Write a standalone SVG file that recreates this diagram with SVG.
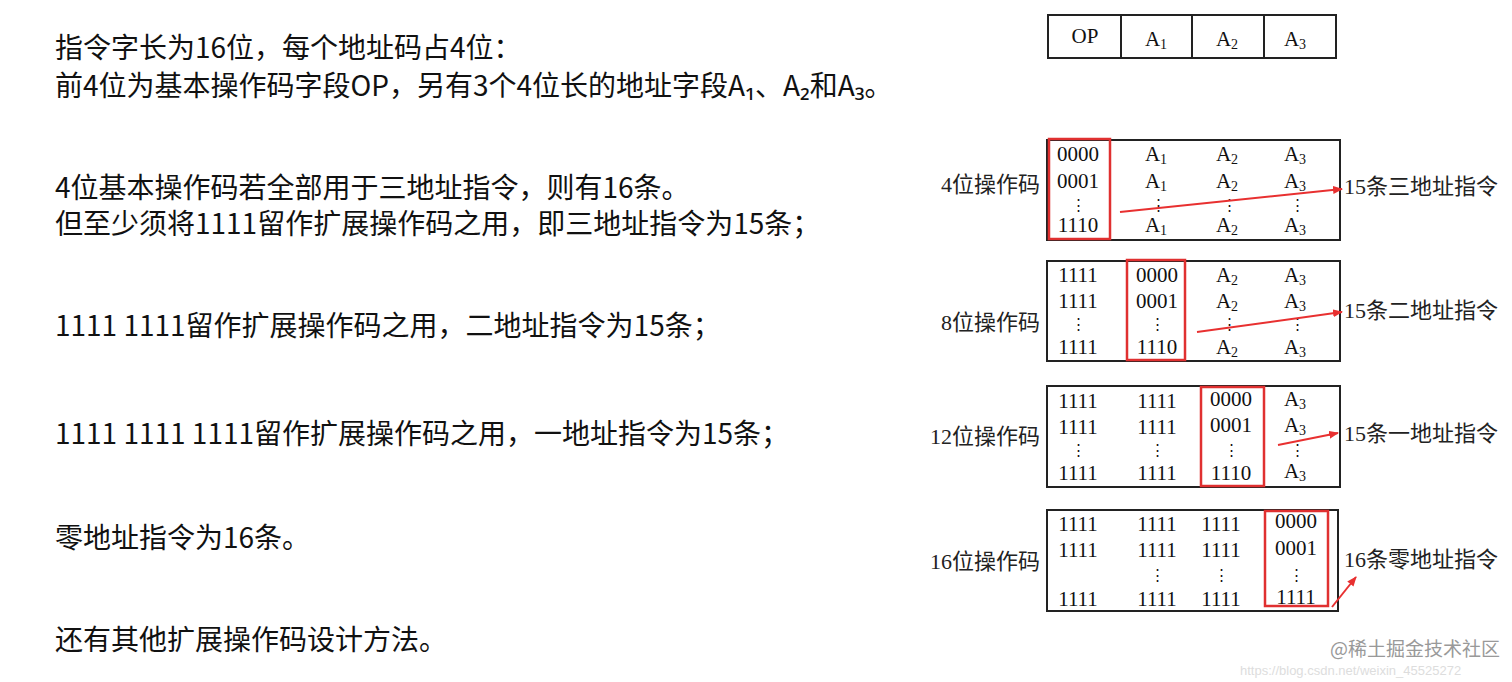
<svg xmlns="http://www.w3.org/2000/svg" width="1512" height="682" viewBox="0 0 1512 682">
<style>
.t{font-family:"Noto Sans CJK SC","Noto Sans",sans-serif;font-size:28px;fill:#111}
.s{font-family:"Liberation Serif","Noto Sans CJK SC",serif;font-size:21px;fill:#111;text-anchor:middle}
.d{font-family:"Liberation Serif","DejaVu Serif",serif;font-size:15px;fill:#111;text-anchor:middle}
.l{font-family:"Liberation Serif","Noto Sans CJK SC",serif;font-size:22px;fill:#222}
.r{text-anchor:end}
.b{fill:none;stroke:#222;stroke-width:2}
.red{fill:none;stroke:#e03030;stroke-width:2.5}
.a{stroke:#e83030;stroke-width:2;fill:none;marker-end:url(#ah)}
</style>
<defs><marker id="ah" markerWidth="10" markerHeight="8" refX="9" refY="4" orient="auto" markerUnits="userSpaceOnUse"><path d="M0,0L10,4L0,8z" fill="#e83030"/></marker></defs>
<rect width="1512" height="682" fill="#fff"/>
<g id="text">
<text class="t" x="55" y="58">指令字长为16位，每个地址码占4位：</text>
<text class="t" x="55" y="96">前4位为基本操作码字段OP，另有3个4位长的地址字段A₁、A₂和A₃。</text>
<text class="t" x="55" y="198">4位基本操作码若全部用于三地址指令，则有16条。</text>
<text class="t" x="55" y="234">但至少须将1111留作扩展操作码之用，即三地址指令为15条；</text>
<text class="t" x="55" y="336">1111 1111留作扩展操作码之用，二地址指令为15条；</text>
<text class="t" x="55" y="444">1111 1111 1111留作扩展操作码之用，一地址指令为15条；</text>
<text class="t" x="55" y="548">零地址指令为16条。</text>
<text class="t" x="55" y="650">还有其他扩展操作码设计方法。</text>
</g>
<g id="header">
<rect class="b" x="1048" y="15" width="288" height="43"/>
<path class="b" d="M1121 15V58M1192 15V58M1264 15V58"/>
<text class="s" x="1085" y="43">OP</text>
<text class="s" x="1156" y="46">A<tspan font-size="14" dy="3">1</tspan></text>
<text class="s" x="1227" y="46">A<tspan font-size="14" dy="3">2</tspan></text>
<text class="s" x="1295" y="46">A<tspan font-size="14" dy="3">3</tspan></text>
</g>
<g id="box1">
<rect class="b" x="1047" y="140" width="293" height="100"/>
<rect class="red" x="1049" y="139" width="61" height="100"/>
<text class="l r" x="1040" y="192">4位操作码</text>
<text class="s" x="1078" y="161">0000</text><text class="s" x="1078" y="188">0001</text><text class="d" x="1078" y="210">⋮</text><text class="s" x="1078" y="232">1110</text>
<text class="s" x="1156" y="161">A<tspan font-size="14" dy="3">1</tspan></text><text class="s" x="1156" y="188">A<tspan font-size="14" dy="3">1</tspan></text><text class="d" x="1158" y="210">⋮</text><text class="s" x="1156" y="232">A<tspan font-size="14" dy="3">1</tspan></text>
<text class="s" x="1227" y="161">A<tspan font-size="14" dy="3">2</tspan></text><text class="s" x="1227" y="188">A<tspan font-size="14" dy="3">2</tspan></text><text class="d" x="1229" y="210">⋮</text><text class="s" x="1227" y="232">A<tspan font-size="14" dy="3">2</tspan></text>
<text class="s" x="1295" y="161">A<tspan font-size="14" dy="3">3</tspan></text><text class="s" x="1295" y="188">A<tspan font-size="14" dy="3">3</tspan></text><text class="d" x="1297" y="210">⋮</text><text class="s" x="1295" y="232">A<tspan font-size="14" dy="3">3</tspan></text>
<text class="l" x="1344" y="194">15条三地址指令</text>
</g>
<g id="box2">
<rect class="b" x="1047" y="261" width="293" height="100"/>
<rect class="red" x="1127" y="260" width="58" height="100"/>
<text class="l r" x="1040" y="330">8位操作码</text>
<text class="s" x="1078" y="282">1111</text><text class="s" x="1078" y="308">1111</text><text class="d" x="1078" y="329">⋮</text><text class="s" x="1078" y="354">1111</text>
<text class="s" x="1157" y="282">0000</text><text class="s" x="1157" y="308">0001</text><text class="d" x="1157" y="329">⋮</text><text class="s" x="1157" y="354">1110</text>
<text class="s" x="1227" y="282">A<tspan font-size="14" dy="3">2</tspan></text><text class="s" x="1227" y="308">A<tspan font-size="14" dy="3">2</tspan></text><text class="d" x="1229" y="329">⋮</text><text class="s" x="1227" y="354">A<tspan font-size="14" dy="3">2</tspan></text>
<text class="s" x="1295" y="282">A<tspan font-size="14" dy="3">3</tspan></text><text class="s" x="1295" y="308">A<tspan font-size="14" dy="3">3</tspan></text><text class="d" x="1297" y="329">⋮</text><text class="s" x="1295" y="354">A<tspan font-size="14" dy="3">3</tspan></text>
<text class="l" x="1344" y="318">15条二地址指令</text>
</g>
<g id="box3">
<rect class="b" x="1047" y="386" width="293" height="101"/>
<rect class="red" x="1201" y="387" width="63" height="99"/>
<text class="l r" x="1040" y="444">12位操作码</text>
<text class="s" x="1078" y="408">1111</text><text class="s" x="1078" y="434">1111</text><text class="d" x="1078" y="455">⋮</text><text class="s" x="1078" y="480">1111</text>
<text class="s" x="1157" y="408">1111</text><text class="s" x="1157" y="434">1111</text><text class="d" x="1157" y="455">⋮</text><text class="s" x="1157" y="480">1111</text>
<text class="s" x="1231" y="406">0000</text><text class="s" x="1231" y="432">0001</text><text class="d" x="1231" y="455">⋮</text><text class="s" x="1231" y="480">1110</text>
<text class="s" x="1295" y="406">A<tspan font-size="14" dy="3">3</tspan></text><text class="s" x="1295" y="432">A<tspan font-size="14" dy="3">3</tspan></text><text class="d" x="1297" y="455">⋮</text><text class="s" x="1295" y="478">A<tspan font-size="14" dy="3">3</tspan></text>
<text class="l" x="1344" y="441">15条一地址指令</text>
</g>
<g id="box4">
<rect class="b" x="1047" y="510" width="291" height="101"/>
<rect class="red" x="1265" y="511" width="63" height="95"/>
<text class="l r" x="1040" y="569">16位操作码</text>
<text class="s" x="1078" y="531">1111</text><text class="s" x="1078" y="557">1111</text><text class="s" x="1078" y="606">1111</text>
<text class="s" x="1157" y="531">1111</text><text class="s" x="1157" y="557">1111</text><text class="d" x="1157" y="580">⋮</text><text class="s" x="1157" y="606">1111</text>
<text class="s" x="1221" y="531">1111</text><text class="s" x="1221" y="557">1111</text><text class="d" x="1221" y="580">⋮</text><text class="s" x="1221" y="606">1111</text>
<text class="s" x="1296" y="528">0000</text><text class="s" x="1296" y="555">0001</text><text class="d" x="1296" y="580">⋮</text><text class="s" x="1296" y="604">1111</text>
<text class="l" x="1344" y="567">16条零地址指令</text>
</g>
<g id="connectors">
<path class="a" d="M1120 212L1342 189"/>
<path class="a" d="M1197 332L1342 312"/>
<path class="a" d="M1278 445L1338 433"/>
<path class="a" d="M1332 607L1356 577"/>
</g>
<g id="watermark">
<text x="1330" y="656" font-family="Noto Sans CJK SC,sans-serif" font-size="19" fill="#999">@稀土掘金技术社区</text>
<text x="1240" y="675" font-family="Liberation Sans,sans-serif" font-size="13" fill="#ddd">https://blog.csdn.net/weixin_45525272</text>
</g>
</svg>
